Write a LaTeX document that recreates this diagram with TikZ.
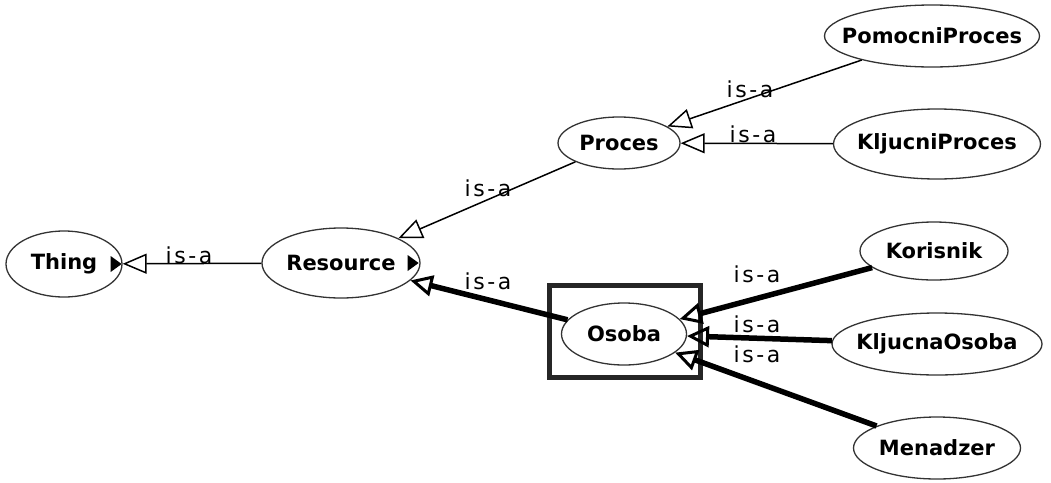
\documentclass[tikz,border=0pt]{standalone}
\usepackage{fontspec}
\setmainfont{DejaVu Sans}
\newfontfamily\lblfont[LetterSpace=12]{DejaVu Sans}
\usetikzlibrary{shapes.geometric,arrows.meta}
\begin{document}
\begin{tikzpicture}[x=1pt,y=-1pt,
 cls/.style={ellipse, draw=black!80, line width=1.3pt, inner sep=0pt, fill=white,
   font=\fontsize{21}{25}\selectfont\bfseries},
 lbl/.style={inner sep=0pt, font=\lblfont\fontsize{22}{26}\selectfont},
 thinisa/.style={line width=1.5pt, -{Triangle[open, length=24pt, width=20pt, line width=1.5pt]}},
 thickisa/.style={line width=5.5pt, -{Triangle[open, length=22pt, width=21pt, line width=3pt]}},
 selbox/.style={draw=black!85, line width=5pt, inner sep=0pt}
]
\useasboundingbox (0,0) rectangle (1051,482);
% selection box
\node[selbox, minimum width=151pt, minimum height=92pt] (sel) at (625,331.5) {};
% classes
\node[cls, minimum width=116pt, minimum height=66pt] (Thing) at (64,264) {\makebox[0pt]{Thing}};
\node[cls, minimum width=158pt, minimum height=70pt] (Resource) at (341,263) {\makebox[0pt]{Resource}};
\node[cls, minimum width=122pt, minimum height=52pt] (Proces) at (619,143) {\makebox[0pt]{Proces}};
\node[cls, minimum width=215pt, minimum height=62pt] (Pom) at (932,36) {\makebox[0pt]{PomocniProces}};
\node[cls, minimum width=207pt, minimum height=70pt] (KP) at (937,144) {\makebox[0pt]{KljucniProces}};
\node[cls, minimum width=148pt, minimum height=58pt] (Kor) at (934,251) {\makebox[0pt]{Korisnik}};
\node[cls, minimum width=210pt, minimum height=62pt] (KO) at (937,344) {\makebox[0pt]{KljucnaOsoba}};
\node[cls, minimum width=167pt, minimum height=62pt] (Men) at (937,448) {\makebox[0pt]{Menadzer}};
\node[cls, minimum width=125pt, minimum height=62pt] (Osoba) at (624,334) {\makebox[0pt]{Osoba}};
% expand markers
\fill ([xshift=-12pt]Thing.east) -- ++(0,-8) -- ++(11,8) -- ++(-11,8) -- cycle;
\fill ([xshift=-13pt]Resource.east) -- ++(0,-8) -- ++(11,8) -- ++(-11,8) -- cycle;
% connectors
\draw[thinisa] (Resource) -- (Thing);
\draw[thinisa] (Proces) -- (Resource);
\draw[thinisa] (Pom) -- (Proces);
\draw[thinisa] (KP) -- (Proces);
\draw[thickisa] (Osoba) -- (Resource);
\draw[thickisa] (Kor) -- (Osoba);
\draw[thickisa] (KO) -- (Osoba);
\draw[thickisa] (Men) -- (Osoba);
% labels
\node[lbl] (l1) at (189,255) {is-a};
\node[lbl] (l2) at (488,188) {is-a};
\node[lbl] (l3) at (488,281) {is-a};
\node[lbl] (l4) at (750,89) {is-a};
\node[lbl] (l5) at (753,134) {is-a};
\node[lbl] (l6) at (757,274) {is-a};
\node[lbl] (l7) at (757,324) {is-a};
\node[lbl] (l8) at (757,354) {is-a};
\end{tikzpicture}
\end{document}
